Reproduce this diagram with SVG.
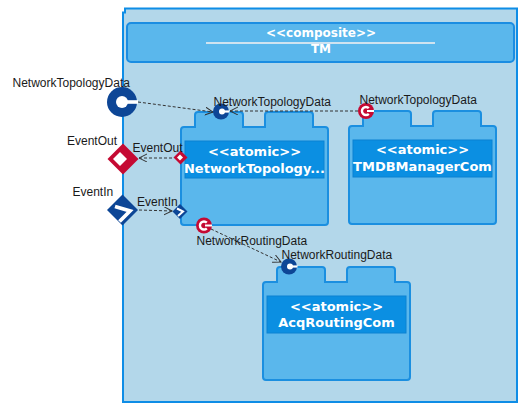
<svg xmlns="http://www.w3.org/2000/svg" xmlns:xlink="http://www.w3.org/1999/xlink" width="523" height="410" viewBox="0 0 523 410">
<style>
.lbl{font-family:"Liberation Sans",Arial,sans-serif;font-size:12px;fill:#1a1a1a}
.ttl{font-family:"DejaVu Sans",Verdana,sans-serif;font-weight:bold;font-size:13px;fill:#ffffff;text-anchor:middle}
.hdr{font-family:"DejaVu Sans",Verdana,sans-serif;font-weight:bold;font-size:12px;fill:#ffffff;text-anchor:middle}
.comp{fill:#5ab7ec;stroke:#1b8fe0;stroke-width:2}
.lbox{fill:#0b8fe2;stroke:#0a82d2;stroke-width:1}
.conn{fill:none;stroke:#333333;stroke-width:1;stroke-dasharray:3,2}
.blue{fill:#0d4696}
.red{fill:#c50a33}
.wht{fill:#ffffff}
</style>
<defs>
<path id="compShape" d="M0,18 a3,3 0 0 1 3,-3 H14 V3 a3,3 0 0 1 3,-3 H59 a3,3 0 0 1 3,3 V15 H84 V3 a3,3 0 0 1 3,-3 H129 a3,3 0 0 1 3,3 V15 H144 a3,3 0 0 1 3,3 V110 a3,3 0 0 1 -3,3 H3 a3,3 0 0 1 -3,-3 Z"/>
<marker id="arr" markerWidth="10" markerHeight="10" refX="8" refY="4" orient="auto" markerUnits="userSpaceOnUse">
<path d="M0,0 L8,4 L0,8" fill="none" stroke="#333333" stroke-width="1"/>
</marker>
</defs>

<g id="TM">
<path d="M123,402 V12.5 H125 V8.5 H517 V402 Z" fill="#b3d7ea" stroke="#0e8de6" stroke-width="2"/>
<rect x="127" y="23" width="387" height="39" rx="4" fill="#5ab7ec" stroke="#1b8de2" stroke-width="2"/>
<text class="hdr" x="321" y="37">&lt;&lt;composite&gt;&gt;</text>
<line x1="206" y1="43" x2="435" y2="43" stroke="#cfe3f0" stroke-width="2"/>
<text class="hdr" x="321" y="53">TM</text>
</g>

<g id="NetworkTopologyCom" transform="translate(181,112)">
<use xlink:href="#compShape" class="comp"/>
<rect class="lbox" x="4" y="29" width="139" height="37"/>
<text class="ttl" x="73.5" y="44">&lt;&lt;atomic&gt;&gt;</text>
<text class="ttl" x="73.5" y="61">NetworkTopology...</text>
</g>

<g id="TMDBManagerCom" transform="translate(349,111)">
<use xlink:href="#compShape" class="comp"/>
<rect class="lbox" x="4" y="29" width="139" height="37"/>
<text class="ttl" x="73.5" y="43">&lt;&lt;atomic&gt;&gt;</text>
<text class="ttl" x="73.5" y="60">TMDBManagerCom</text>
</g>

<g id="AcqRoutingCom" transform="translate(263,267)">
<use xlink:href="#compShape" class="comp"/>
<rect class="lbox" x="4" y="29" width="139" height="37"/>
<text class="ttl" x="73.5" y="44">&lt;&lt;atomic&gt;&gt;</text>
<text class="ttl" x="73.5" y="60">AcqRoutingCom</text>
</g>

<g id="connectors">
<path class="conn" d="M138,102 L213,112" marker-end="url(#arr)"/>
<path class="conn" d="M358,111 L230,111" marker-end="url(#arr)"/>
<path class="conn" d="M172,158 L139,158" marker-end="url(#arr)"/>
<path class="conn" d="M139,210 L172,211" marker-end="url(#arr)"/>
<path class="conn" d="M211,229 L281,262" marker-end="url(#arr)"/>
</g>

<g id="port-TM-NetworkTopologyData">
<circle class="blue" cx="122" cy="102" r="15"/>
<circle class="wht" cx="122" cy="102" r="6"/>
<rect class="wht" x="122" y="100.2" width="16" height="3.6"/>
<text class="lbl" x="12.5" y="87">NetworkTopologyData</text>
</g>

<g id="port-TM-EventOut">
<path class="red" d="M123,143.5 L138.5,159 L123,174.5 L107.5,159 Z"/>
<path class="wht" d="M120,152 L127,159 L120,166 L113,159 Z"/>
<text class="lbl" x="67" y="145">EventOut</text>
</g>

<g id="port-TM-EventIn">
<path class="blue" d="M122.5,194.5 L138,210 L122.5,225.5 L107,210 Z"/>
<polyline points="115,206.5 130,211 119.5,221.5" fill="none" stroke="#ffffff" stroke-width="3.8"/>
<text class="lbl" x="72.5" y="196">EventIn</text>
</g>

<g id="port-NT-NetworkTopologyData">
<circle class="blue" cx="221" cy="111.5" r="8"/>
<circle class="wht" cx="222" cy="111.5" r="3"/>
<rect class="wht" x="222" y="110.4" width="7.5" height="2.2"/>
<text class="lbl" x="213.5" y="105.5">NetworkTopologyData</text>
</g>

<g id="port-NT-EventOut">
<path class="red" d="M180.5,150.5 L187.5,157.5 L180.5,164.5 L173.5,157.5 Z"/>
<path class="wht" d="M180,154.5 L183,157.5 L180,160.5 L177,157.5 Z"/>
<text class="lbl" x="132.5" y="151.5">EventOut</text>
</g>

<g id="port-NT-EventIn">
<path class="blue" d="M180,204 L187.5,211.5 L180,219 L172.5,211.5 Z"/>
<polyline points="177,208.5 183,211.5 178,216" fill="none" stroke="#ffffff" stroke-width="2"/>
<text class="lbl" x="137" y="205.5">EventIn</text>
</g>

<g id="port-NT-NetworkRoutingData">
<circle class="red" cx="204" cy="225.5" r="8"/>
<path d="M206.8,222.7 A4,4 0 1 0 206.8,228.3" fill="none" stroke="#ffffff" stroke-width="2.4"/>
<rect class="wht" x="205" y="224.5" width="7" height="2"/>
<text class="lbl" x="196.5" y="245">NetworkRoutingData</text>
</g>

<g id="port-TMDB-NetworkTopologyData">
<circle class="red" cx="366" cy="111" r="8"/>
<path d="M368.8,108.2 A4,4 0 1 0 368.8,113.8" fill="none" stroke="#ffffff" stroke-width="2.4"/>
<rect class="wht" x="367" y="110" width="7" height="2"/>
<text class="lbl" x="359.5" y="103.5">NetworkTopologyData</text>
</g>

<g id="port-Acq-NetworkRoutingData">
<circle class="blue" cx="289" cy="266.5" r="8"/>
<circle class="wht" cx="290" cy="266.5" r="3"/>
<rect class="wht" x="290" y="265.4" width="7.5" height="2.2"/>
<text class="lbl" x="281.5" y="258.5">NetworkRoutingData</text>
</g>
</svg>
